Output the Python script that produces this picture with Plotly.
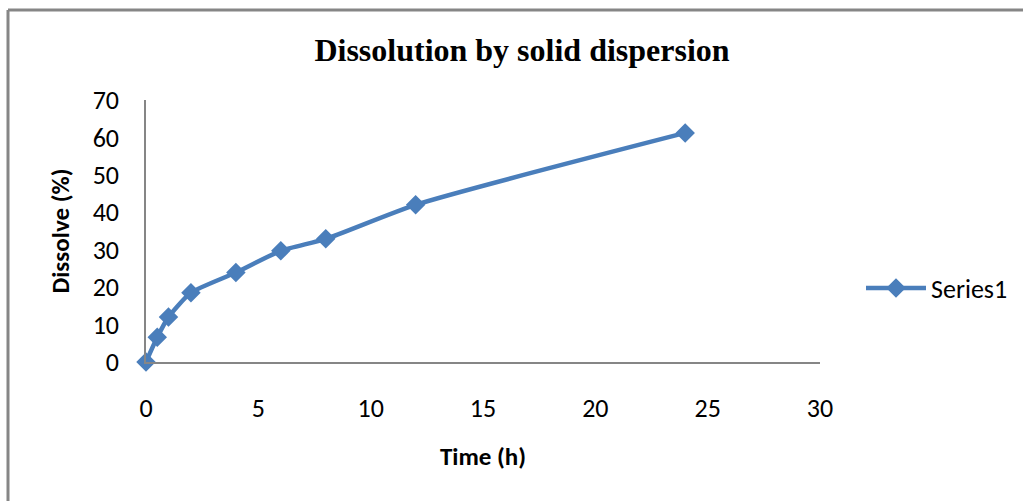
import plotly.graph_objects as go

time_h = [0, 0.5, 1, 2, 4, 6, 8, 12, 24]
dissolve_pct = [0, 6.6, 12, 18.5, 23.9, 29.7, 32.9, 42, 61.2]
series_name = "Series1"
title_text = "Dissolution by solid dispersion"
x_title = "Time (h)"
y_title = "Dissolve (%)"

W, H = 1023, 501
L, R, T, B = 146, 203, 100, 139
pw, ph = W - L - R, H - T - B

def px(x):
    return (x - L) / pw

def py(y):
    return (H - B - y) / ph

blue = "#4a7ebb"

fig = go.Figure()
fig.add_trace(go.Scatter(
    x=time_h, y=dissolve_pct, name=series_name,
    mode="lines+markers", cliponaxis=False,
    line=dict(color=blue, width=4.5, shape="spline", smoothing=0.6),
    marker=dict(symbol="diamond", size=15, color=blue),
))

font_main = "Carlito, Calibri, 'Liberation Sans', Arial, sans-serif"

fig.update_layout(
    width=W, height=H,
    margin=dict(l=L, r=R, t=T, b=B, autoexpand=False),
    paper_bgcolor="white", plot_bgcolor="white",
    title=dict(text="<b>" + title_text + "</b>", x=522 / W, xanchor="center",
               y=1 - 50 / H, yanchor="middle",
               font=dict(family="'Liberation Serif', 'Times New Roman', serif", size=32, color="black")),
    xaxis=dict(range=[0, 30], dtick=5, showgrid=False, zeroline=False,
               showline=True, linecolor="#868686", linewidth=1.5,
               ticks="", ticklabelstandoff=22,
               tickfont=dict(family=font_main, size=26, color="black"),
               title=dict(text="<b>" + x_title + "</b>", standoff=25,
                          font=dict(family=font_main, size=25, color="black"))),
    yaxis=dict(range=[0, 70], dtick=10, showgrid=False, zeroline=False,
               showline=True, linecolor="#868686", linewidth=1.5,
               ticks="", ticklabelstandoff=20,
               tickfont=dict(family=font_main, size=26, color="black"),
               title=dict(text="<b>" + y_title + "</b>", standoff=16,
                          font=dict(family=font_main, size=25, color="black"))),
    showlegend=True,
    legend=dict(x=px(861), y=py(288), xanchor="left", yanchor="middle",
                font=dict(family=font_main, size=26, color="black"),
                bgcolor="rgba(0,0,0,0)", itemwidth=60),
)

# outer chart border (top and left visible)
fig.add_shape(type="line", xref="paper", yref="paper",
              x0=px(8), x1=px(W + 5), y0=py(10), y1=py(10),
              line=dict(color="#868686", width=3))
fig.add_shape(type="line", xref="paper", yref="paper",
              x0=px(8), x1=px(8), y0=py(10), y1=py(H + 5),
              line=dict(color="#868686", width=3))

fig.write_html("out.html")
